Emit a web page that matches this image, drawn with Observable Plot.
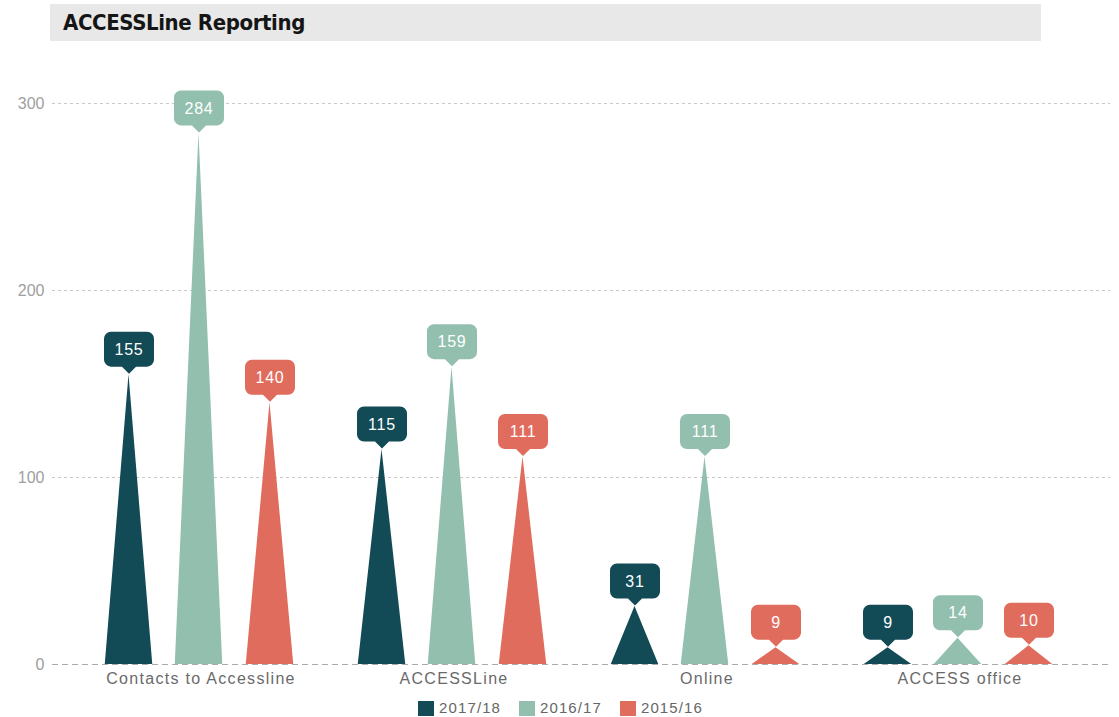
<!DOCTYPE html>
<html>
<head>
<meta charset="utf-8">
<script src="https://cdn.jsdelivr.net/npm/d3@7"></script>
<script src="https://cdn.jsdelivr.net/npm/@observablehq/plot@0.6"></script>
<style>
  html, body { margin: 0; padding: 0; background: #fff; width: 1119px; height: 717px; overflow: hidden; }
  body { font-family: "Liberation Sans", Arial, sans-serif; }
  #title {
    margin: 4px 0 0 50px; width: 978px; height: 37px; background: #e8e8e8;
    padding-left: 13px; line-height: 38px; font-size: 22px; font-weight: bold; color: #151515;
    font-family: "DejaVu Sans", sans-serif; font-stretch: condensed; letter-spacing: -0.4px;
  }
  #chart svg { display: block; margin-top: 4px; }
  #legend { display: flex; justify-content: center; gap: 18px; margin-top: 4px; padding-left: 2px;
    font-size: 15px; letter-spacing: 1.1px; color: #666; line-height: 18px; }
  #legend .item { display: flex; align-items: center; gap: 5px; }
  #legend .sw { width: 16px; height: 15px; display: inline-block; }
  #chart svg g[aria-label="x-axis tick label"] text { letter-spacing: 1.3px; }
  #chart svg g[aria-label="text"] text { letter-spacing: 0.8px; }
</style>
</head>
<body>
<div id="title">ACCESSLine Reporting</div>
<div id="chart"></div>
<div id="legend"></div>
<script>
const categories = ["Contacts to Accessline", "ACCESSLine", "Online", "ACCESS office"];
const series = ["2017/18", "2016/17", "2015/16"];
const values2017 = [155, 115, 31, 9];
const values2016 = [284, 159, 111, 14];
const values2015 = [140, 111, 9, 10];
const seriesValues = [values2017, values2016, values2015];
const colors = ["#124a56", "#92bfae", "#e06c5e"];
const yTicks = [0, 100, 200, 300];

const rows = [];
series.forEach((s, j) => categories.forEach((c, i) => rows.push({category: c, series: s, value: seriesValues[j][i]})));

const offsets = [-72, -2, 69];
const bandW = (1119 - 52 - 9 - 21 - 23) / categories.length;
const barInset = (bandW - 48) / 2;

const callout = {
  draw(ctx) {
    const w = 25, top = -43, bot = -8, r = 7, pw = 7;
    ctx.moveTo(-w + r, top);
    ctx.lineTo(w - r, top);
    ctx.arcTo(w, top, w, top + r, r);
    ctx.lineTo(w, bot - r);
    ctx.arcTo(w, bot, w - r, bot, r);
    ctx.lineTo(pw, bot);
    ctx.lineTo(0, -1);
    ctx.lineTo(-pw, bot);
    ctx.lineTo(-w + r, bot);
    ctx.arcTo(-w, bot, -w, bot - r, r);
    ctx.lineTo(-w, top + r);
    ctx.arcTo(-w, top, -w + r, top, r);
    ctx.closePath();
  }
};

const seriesMarks = series.flatMap((s, j) => {
  const d = rows.filter(r => r.series === s);
  return [
    Plot.barY(d, {x: "category", y: "value", fill: colors[j], dx: offsets[j], insetLeft: barInset, insetRight: barInset}),
    Plot.dot(d, {x: "category", y: "value", fill: colors[j], stroke: "none", symbol: callout, dx: offsets[j]}),
    Plot.text(d, {x: "category", y: "value", text: d => String(d.value), fill: "#fff", fontSize: 16, dy: -25, dx: offsets[j]})
  ];
});

const chart = Plot.plot({
  width: 1119,
  height: 650,
  marginLeft: 52,
  marginRight: 9,
  marginTop: 58,
  marginBottom: 31,
  style: {fontFamily: "'Liberation Sans', Arial, sans-serif", background: "#fff"},
  x: {domain: categories, padding: 0, insetLeft: 21, insetRight: 23, axis: null, label: null},
  y: {domain: [0, 300], axis: null, label: null},
  marks: [
    Plot.ruleY(yTicks.filter(t => t > 0), {stroke: "#c8c8c8", strokeDasharray: "3,3"}),
    Plot.ruleY([0], {stroke: "#aaa", strokeDasharray: "6,4"}),
    ...seriesMarks,
    Plot.axisY({ticks: yTicks, tickSize: 0, tickPadding: 8, fontSize: 16, fill: "#a0a0a0", label: null, tickFormat: d => String(d)}),
    Plot.axisX({tickSize: 0, tickPadding: 8, fontSize: 16, fill: "#6a6a6a", label: null})
  ]
});

chart.querySelectorAll('g[aria-label="bar"] rect').forEach(rect => {
  const x = +rect.getAttribute("x"), y = +rect.getAttribute("y");
  const w = +rect.getAttribute("width"), h = +rect.getAttribute("height");
  const p = document.createElementNS("http://www.w3.org/2000/svg", "path");
  for (const a of rect.attributes) if (!["x", "y", "width", "height"].includes(a.name)) p.setAttribute(a.name, a.value);
  p.setAttribute("d", `M${x},${y + h}L${x + w / 2},${y}L${x + w},${y + h}Z`);
  rect.replaceWith(p);
});

document.getElementById("chart").appendChild(chart);

const legend = document.getElementById("legend");
series.forEach((s, j) => {
  const it = document.createElement("div");
  it.className = "item";
  it.innerHTML = `<span class="sw" style="background:${colors[j]}"></span><span>${s}</span>`;
  legend.appendChild(it);
});
</script>
</body>
</html>
